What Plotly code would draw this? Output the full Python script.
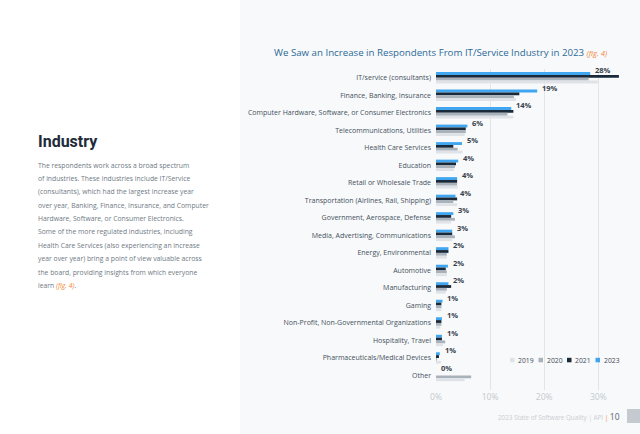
import plotly.graph_objects as go

# ---------------- data ----------------
categories = [
    "IT/service (consultants)",
    "Finance, Banking, Insurance",
    "Computer Hardware, Software, or Consumer Electronics",
    "Telecommunications, Utilities",
    "Health Care Services",
    "Education",
    "Retail or Wholesale Trade",
    "Transportation (Airlines, Rail, Shipping)",
    "Government, Aerospace, Defense",
    "Media, Advertising, Communications",
    "Energy, Environmental",
    "Automotive",
    "Manufacturing",
    "Gaming",
    "Non-Profit, Non-Governmental Organizations",
    "Hospitality, Travel",
    "Pharmaceuticals/Medical Devices",
    "Other",
]
v2023 = [28.5, 18.7, 13.9, 5.8, 4.8, 4.1, 3.9, 3.6, 3.2, 3.0, 2.3, 2.2, 2.3, 1.2, 1.1, 1.1, 0.7, 0.0]
v2021 = [33.8, 15.4, 14.3, 5.5, 3.2, 3.7, 3.9, 3.9, 2.8, 3.0, 2.3, 1.8, 2.8, 1.0, 1.0, 1.1, 0.55, 0.0]
v2020 = [28.2, 14.4, 13.2, 5.5, 4.0, 3.5, 3.9, 3.2, 3.5, 3.5, 2.0, 2.0, 2.0, 1.0, 1.0, 1.7, 0.15, 6.5]
v2019 = [29.9, 14.8, 14.3, 5.3, 4.9, 3.3, 4.0, 3.9, 2.8, 3.0, 2.0, 2.0, 1.8, 1.0, 0.8, 1.3, 0.9, 5.3]
labels2023 = ["28%", "19%", "14%", "6%", "5%", "4%", "4%", "4%", "3%", "3%",
              "2%", "2%", "2%", "1%", "1%", "1%", "1%", "0%"]
series_names = ["2019", "2020", "2021", "2023"]
tick_vals = [0, 10, 20, 30]
tick_text = ["0%", "10%", "20%", "30%"]

title_text = "We Saw an Increase in Respondents From IT/Service Industry in 2023"
heading = "Industry"
body_lines = [
    "The respondents work across a broad spectrum",
    "of industries. These industries include IT/Service",
    "(consultants), which had the largest increase year",
    "over year, Banking, Finance, Insurance, and Computer",
    "Hardware, Software, or Consumer Electronics.",
    "Some of the more regulated industries, including",
    "Health Care Services (also experiencing an increase",
    "year over year) bring a point of view valuable across",
    "the board, providing insights from which everyone",
    "learn <i><span style='color:#f5883a'>(fig. 4)</span></i>.",
]

# ---------------- styling ----------------
COL = {"2019": "#dfe3e7", "2020": "#a9b2bb", "2021": "#1b2a3b", "2023": "#3fa6ef"}
PANEL = "#f8f9fa"
FONT = "Open Sans"

W, H = 640, 434
PL, PR, PT, PB = 436, 620, 69, 390   # plot area in pixels


def px2x(px):
    return (px - PL) / (PR - PL)


def px2y(py):
    return (PB - py) / (PB - PT)


fig = go.Figure()
for name, vals in [("2023", v2023), ("2021", v2021), ("2020", v2020), ("2019", v2019)]:
    fig.add_trace(go.Bar(
        y=categories, x=vals, orientation="h", name=name,
        marker=dict(color=COL[name], line=dict(width=0)),
        showlegend=False, hoverinfo="x+y",
    ))

annotations = []
# value labels for 2023
for cat, val, lab in zip(categories, v2023, labels2023):
    annotations.append(dict(
        x=val, y=cat, xref="x", yref="y", text="<b>" + lab + "</b>",
        showarrow=False, xanchor="left", yanchor="middle", xshift=3, yshift=7.5,
        font=dict(family=FONT, size=7.5, color="#37414b"),
    ))

# title
annotations.append(dict(
    x=px2x(440), y=px2y(52), xref="paper", yref="paper",
    text=title_text + " <i><span style='color:#f5883a;font-size:7.6px'>(fig. 4)</span></i>",
    showarrow=False, xanchor="center", yanchor="middle",
    font=dict(family=FONT, size=9.7, color="#2c6a99"),
))

# left page text
annotations.append(dict(
    x=px2x(36), y=px2y(141), xref="paper", yref="paper", text="<b>" + heading + "</b>",
    showarrow=False, xanchor="left", yanchor="middle",
    font=dict(family="Roboto", size=16, color="#1e2b39"),
))
for i, line in enumerate(body_lines):
    annotations.append(dict(
        x=px2x(36), y=px2y(165 + i * 13.4), xref="paper", yref="paper", text=line,
        showarrow=False, xanchor="left", yanchor="middle",
        font=dict(family=FONT, size=6.8, color="#6f7a84"),
    ))

# manual legend
shapes = []
leg_x = [510, 538.5, 567, 595.5]
leg_y = 360
shapes.append(dict(type="rect", xref="paper", yref="paper",
                   x0=px2x(503), x1=px2x(622), y0=px2y(350), y1=px2y(371),
                   fillcolor=PANEL, line=dict(width=0), layer="between"))
for name, lx in zip(series_names, leg_x):
    shapes.append(dict(type="rect", xref="paper", yref="paper",
                       x0=px2x(lx), x1=px2x(lx + 4.5), y0=px2y(leg_y + 2.3), y1=px2y(leg_y - 2.2),
                       fillcolor=COL[name], line=dict(width=0), layer="above"))
    annotations.append(dict(
        x=px2x(lx + 6), y=px2y(leg_y), xref="paper", yref="paper", text=name,
        showarrow=False, xanchor="left", yanchor="middle",
        font=dict(family=FONT, size=6.8, color="#3f4a55"),
    ))

# right panel background
shapes.insert(0, dict(type="rect", xref="paper", yref="paper",
                      x0=px2x(240), x1=px2x(641), y0=px2y(435), y1=px2y(-1),
                      fillcolor=PANEL, line=dict(width=0), layer="below"))

# footer
annotations.append(dict(
    x=px2x(622), y=px2y(416), xref="paper", yref="paper",
    text="<span style='color:#c9ced3'>2023 State of Software Quality | API</span>"
         " <span style='color:#f5883a'>|</span> <span style='color:#5a646e;font-size:8.5px'>10</span>",
    showarrow=False, xanchor="right", yanchor="middle",
    font=dict(family=FONT, size=6.3, color="#c9ced3"),
))
shapes.append(dict(type="rect", xref="paper", yref="paper",
                   x0=px2x(627), x1=px2x(641), y0=px2y(423), y1=px2y(409),
                   fillcolor="#c4cad0", line=dict(width=0), layer="above"))

fig.update_layout(
    width=W, height=H,
    margin=dict(l=PL, r=W - PR, t=PT, b=H - PB, pad=0),
    paper_bgcolor="white", plot_bgcolor=PANEL,
    barmode="group", bargap=0.35, bargroupgap=0,
    showlegend=False,
    annotations=annotations, shapes=shapes,
    xaxis=dict(range=[0, 34], tickvals=tick_vals, ticktext=tick_text,
               showgrid=True, gridcolor="#e2e5e8", gridwidth=1, zeroline=False,
               showline=False, ticks="",
               tickfont=dict(family=FONT, size=8.5, color="#c3c9cf"),
               fixedrange=True),
    yaxis=dict(categoryorder="array", categoryarray=categories, autorange="reversed",
               showgrid=False, zeroline=False, showline=False, ticks="",
               ticklabelstandoff=4,
               tickfont=dict(family=FONT, size=7.0, color="#44515d"),
               fixedrange=True),
    font=dict(family=FONT),
)

fig.write_html(
    "out.html",
    config={"displayModeBar": False},
    post_script="document.body.style.margin='0px';document.body.style.overflow='hidden';",
)
